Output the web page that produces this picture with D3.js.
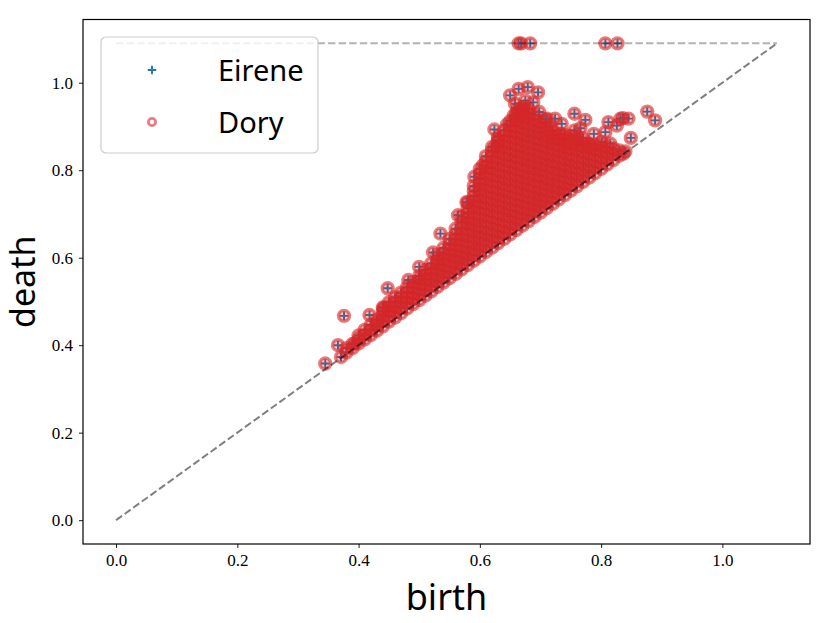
<!DOCTYPE html>
<html>
<head>
<meta charset="utf-8">
<script src="https://cdn.jsdelivr.net/npm/d3@7"></script>
<style>
  html, body { margin: 0; padding: 0; background: #fff; }
  svg { display: block; }
</style>
</head>
<body>
<svg id="chart" width="830" height="623"></svg>
<script>
// ---------- data ----------
const seriesNames = ["Eirene", "Dory"];
const xTicks = [0.0, 0.2, 0.4, 0.6, 0.8, 1.0];
const yTicks = [0.0, 0.2, 0.4, 0.6, 0.8, 1.0];
const infinityLevel = 1.09;

// dense cloud: one birth per column, deaths listed per column
const cloudBirth = [0.38,0.39,0.40,0.41,0.42,0.43,0.44,0.45,0.46,0.47,0.48,0.49,0.50,0.51,0.52,0.53,0.54,0.55,0.56,0.57,0.58,0.59,0.60,0.61,0.62,0.63,0.64,0.65,0.66,0.67,0.68,0.69,0.70,0.71,0.72,0.73,0.74,0.75,0.76,0.77,0.78,0.79,0.80,0.81,0.82,0.83,0.84];
const cloudDeaths = [
  [0.383,0.393],
  [0.393,0.403],
  [0.404,0.414,0.422],
  [0.413,0.424,0.435],
  [0.423,0.434,0.446],
  [0.433,0.445,0.458],
  [0.443,0.456,0.469,0.478,0.486],
  [0.454,0.466,0.479,0.489,0.498],
  [0.463,0.476,0.489,0.499,0.509],
  [0.473,0.486,0.499,0.510,0.520],
  [0.484,0.497,0.510,0.521,0.532],
  [0.494,0.507,0.519,0.532,0.544],
  [0.503,0.516,0.529,0.541,0.549,0.558],
  [0.513,0.526,0.539,0.551,0.561,0.572],
  [0.523,0.536,0.550,0.564,0.575,0.587],
  [0.533,0.546,0.560,0.573,0.586,0.594,0.605],
  [0.543,0.556,0.570,0.584,0.598,0.610,0.622],
  [0.553,0.566,0.580,0.594,0.607,0.619,0.631,0.643],
  [0.563,0.576,0.590,0.604,0.617,0.630,0.641,0.653,0.666],
  [0.573,0.586,0.600,0.613,0.627,0.641,0.655,0.668,0.681,0.694],
  [0.583,0.596,0.610,0.624,0.637,0.651,0.665,0.679,0.692,0.701,0.713,0.726],
  [0.593,0.606,0.620,0.634,0.648,0.662,0.676,0.690,0.704,0.718,0.731,0.740,0.752,0.764],
  [0.603,0.617,0.631,0.645,0.659,0.672,0.686,0.700,0.714,0.728,0.742,0.756,0.769,0.780,0.792,0.803],
  [0.613,0.627,0.641,0.655,0.669,0.683,0.697,0.711,0.725,0.739,0.753,0.767,0.781,0.795,0.808,0.820,0.832],
  [0.623,0.637,0.651,0.665,0.679,0.693,0.707,0.721,0.735,0.749,0.763,0.777,0.791,0.805,0.819,0.832,0.843,0.853],
  [0.633,0.647,0.661,0.675,0.689,0.703,0.717,0.731,0.745,0.759,0.773,0.787,0.801,0.815,0.829,0.843,0.857,0.866,0.876],
  [0.643,0.657,0.671,0.685,0.699,0.713,0.727,0.741,0.755,0.769,0.783,0.797,0.811,0.825,0.839,0.853,0.867,0.879,0.891],
  [0.653,0.667,0.681,0.695,0.709,0.723,0.737,0.751,0.765,0.779,0.793,0.807,0.821,0.835,0.849,0.863,0.877,0.890,0.901,0.912],
  [0.663,0.677,0.691,0.705,0.719,0.733,0.747,0.761,0.775,0.789,0.803,0.817,0.831,0.845,0.859,0.873,0.887,0.901,0.914,0.921,0.931],
  [0.673,0.687,0.701,0.715,0.729,0.743,0.757,0.771,0.785,0.799,0.813,0.827,0.841,0.855,0.869,0.883,0.897,0.911,0.924,0.931,0.941],
  [0.683,0.697,0.711,0.725,0.739,0.753,0.767,0.781,0.795,0.809,0.823,0.837,0.851,0.865,0.879,0.893,0.907,0.920,0.929,0.940],
  [0.693,0.707,0.721,0.735,0.749,0.763,0.777,0.791,0.805,0.819,0.833,0.847,0.861,0.875,0.889,0.903,0.915,0.927],
  [0.703,0.717,0.731,0.745,0.759,0.773,0.787,0.801,0.815,0.829,0.843,0.857,0.871,0.885,0.897,0.909],
  [0.713,0.727,0.741,0.755,0.769,0.783,0.797,0.811,0.825,0.839,0.853,0.867,0.879,0.888,0.898],
  [0.723,0.737,0.751,0.765,0.779,0.793,0.807,0.821,0.835,0.849,0.862,0.871,0.880,0.889],
  [0.733,0.747,0.761,0.775,0.789,0.803,0.817,0.831,0.845,0.858,0.870,0.880],
  [0.743,0.757,0.771,0.785,0.799,0.813,0.827,0.841,0.855,0.862,0.872,0.881],
  [0.753,0.767,0.781,0.795,0.809,0.823,0.837,0.851,0.861,0.870,0.879],
  [0.763,0.777,0.791,0.805,0.819,0.833,0.847,0.859,0.868,0.877],
  [0.773,0.787,0.801,0.815,0.829,0.843,0.856,0.864,0.873],
  [0.783,0.797,0.811,0.825,0.839,0.852,0.860],
  [0.793,0.807,0.821,0.835,0.848,0.858],
  [0.803,0.817,0.831,0.845,0.856],
  [0.813,0.827,0.841,0.853],
  [0.823,0.837,0.850],
  [0.833,0.845],
  [0.843]
];

// scattered points on the edge of the cloud
const edgeBirth = [0.345,0.366,0.371,0.376,0.418,0.394,0.430,0.448,0.441,0.482,0.500,0.523,0.535,0.564,0.578,0.591,0.605,0.624,0.625,0.630,0.650,0.656,0.658,0.664,0.675,0.679,0.696,0.698,0.711,0.724,0.733,0.756,0.774,0.756,0.788,0.807,0.812,0.815,0.826,0.832,0.836,0.845,0.849,0.837,0.876,0.889,0.735,0.708,0.801,0.782,0.672,0.688,0.662,0.645,0.716,0.766];
const edgeDeath = [0.358,0.400,0.373,0.467,0.469,0.404,0.450,0.530,0.485,0.549,0.579,0.612,0.655,0.697,0.727,0.785,0.811,0.893,0.853,0.870,0.971,0.925,0.952,0.986,0.959,0.990,0.978,0.933,0.918,0.918,0.883,0.929,0.915,0.891,0.883,0.887,0.910,0.861,0.902,0.918,0.919,0.918,0.874,0.838,0.934,0.914,0.906,0.916,0.864,0.857,0.945,0.955,0.940,0.905,0.900,0.896];

// essential classes (death = infinity)
const essentialBirth = [0.664,0.668,0.683,0.807,0.827];

(function () {
  // ---------- build point table ----------
  const points = [];
  cloudBirth.forEach((b, i) => cloudDeaths[i].forEach(d => points.push({b, d})));
  edgeBirth.forEach((b, i) => points.push({b, d: edgeDeath[i]}));
  essentialBirth.forEach(b => points.push({b, d: infinityLevel}));

  // ---------- layout ----------
  const svg = d3.select("#chart");
  const pL = 83, pR = 810, pT = 19.5, pB = 544;
  const dom = [-0.0545, 1.1445];
  const x = d3.scaleLinear().domain(dom).range([pL, pR]);
  const y = d3.scaleLinear().domain(dom).range([pB, pT]);

  const red = "#d62728", blue = "#1f77b4";

  // axes
  const tickFont = "'Liberation Serif', 'DejaVu Serif', serif";
  const xAxis = d3.axisBottom(x).tickValues(xTicks).tickFormat(d3.format(".1f")).tickSizeOuter(0).tickSize(4).tickPadding(6);
  const yAxis = d3.axisLeft(y).tickValues(yTicks).tickFormat(d3.format(".1f")).tickSizeOuter(0).tickSize(4).tickPadding(6);

  const gx = svg.append("g").attr("transform", `translate(0,${pB})`).call(xAxis);
  const gy = svg.append("g").attr("transform", `translate(${pL},0)`).call(yAxis);
  [gx, gy].forEach(g => {
    g.select(".domain").remove();
    g.selectAll(".tick line").attr("stroke", "#000").attr("stroke-width", 0.9);
    g.selectAll(".tick text").attr("font-family", tickFont).attr("font-size", 17).attr("fill", "#000");
  });

  // plot area clip
  svg.append("clipPath").attr("id", "clip").append("rect")
    .attr("x", pL).attr("y", pT).attr("width", pR - pL).attr("height", pB - pT);
  const plot = svg.append("g").attr("clip-path", "url(#clip)");

  // Eirene: plus markers
  plot.append("g").selectAll("path").data(points).join("path")
    .attr("d", "M-4.2,0H4.2M0,-4.2V4.2")
    .attr("transform", p => `translate(${x(p.b)},${y(p.d)})`)
    .attr("stroke", blue).attr("stroke-width", 1.9).attr("fill", "none");

  // Dory: circle markers
  plot.append("g").selectAll("circle").data(points).join("circle")
    .attr("cx", p => x(p.b)).attr("cy", p => y(p.d)).attr("r", 5.5)
    .attr("fill", red).attr("fill-opacity", 0.3)
    .attr("stroke", red).attr("stroke-opacity", 0.6).attr("stroke-width", 3.4);

  // infinity line and diagonal
  plot.append("line")
    .attr("x1", x(0)).attr("y1", y(infinityLevel)).attr("x2", x(infinityLevel)).attr("y2", y(infinityLevel))
    .attr("stroke", "#000").attr("stroke-opacity", 0.3).attr("stroke-width", 2).attr("stroke-dasharray", "7.4,3.2");
  plot.append("line")
    .attr("x1", x(0)).attr("y1", y(0)).attr("x2", x(infinityLevel)).attr("y2", y(infinityLevel))
    .attr("stroke", "#000").attr("stroke-opacity", 0.5).attr("stroke-width", 2).attr("stroke-dasharray", "7.4,3.2");

  // frame
  svg.append("rect").attr("x", pL).attr("y", pT).attr("width", pR - pL).attr("height", pB - pT)
    .attr("fill", "none").attr("stroke", "#000").attr("stroke-width", 1.2);

  // axis labels
  const sans = "'Noto Sans', 'DejaVu Sans', sans-serif";
  svg.append("text").attr("x", (pL + pR) / 2).attr("y", 610).attr("text-anchor", "middle")
    .attr("font-family", sans).attr("font-size", 36).text("birth");
  svg.append("text").attr("transform", `translate(35,${(pT + pB) / 2}) rotate(-90)`).attr("text-anchor", "middle")
    .attr("font-family", sans).attr("font-size", 34).text("death");

  // legend
  const lg = svg.append("g");
  lg.append("rect").attr("x", 101).attr("y", 37).attr("width", 217).attr("height", 116).attr("rx", 5)
    .attr("fill", "#fff").attr("fill-opacity", 0.8).attr("stroke", "#ccc").attr("stroke-width", 1.2);
  lg.append("path").attr("d", "M-4.2,0H4.2M0,-4.2V4.2").attr("transform", "translate(152,70)")
    .attr("stroke", blue).attr("stroke-width", 1.9).attr("fill", "none");
  lg.append("circle").attr("cx", 152).attr("cy", 122).attr("r", 3.6)
    .attr("fill", "none").attr("stroke", red).attr("stroke-opacity", 0.6).attr("stroke-width", 2.8);
  lg.selectAll("text.lab").data(seriesNames).join("text").attr("class", "lab")
    .attr("x", 218).attr("y", (d, i) => 81 + i * 52)
    .attr("font-family", sans).attr("font-size", 29).text(d => d);
})();
</script>
</body>
</html>
